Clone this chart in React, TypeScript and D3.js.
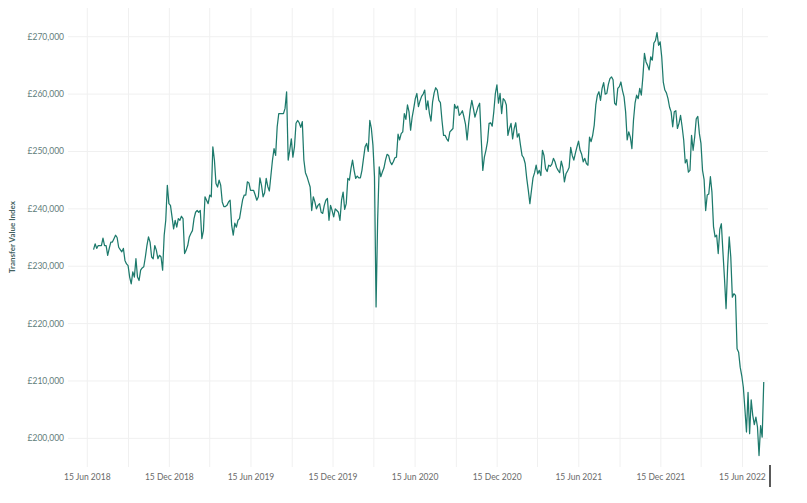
import React from 'react'
import * as d3 from 'd3'

const startDate = new Date(2018, 5, 29)
const stepDays = 3.5
const indexValues = [
  232900, 233900, 233100, 233600, 233600, 233600, 234900, 233600, 233600, 231900,
  233100, 234200, 234200, 234800, 235400, 235000, 233300, 232900, 232500, 233100,
  231000, 230400, 230100, 228100, 226900, 229000, 228100, 231300, 228100, 227500,
  229300, 229700, 229900, 231600, 233600, 235100, 234200, 231600, 231300, 233600,
  232800, 231300, 231900, 231600, 229300, 235400, 238000, 244100, 240900, 240600,
  238600, 236500, 238000, 236800, 238300, 238000, 238700, 238300, 232200, 232800,
  233600, 235100, 235700, 236200, 238300, 239400, 239700, 239400, 239700, 234800,
  236200, 242100, 241500, 240900, 242400, 242100, 250800, 248500, 244400, 243800,
  245000, 244100, 241200, 240400, 240400, 240600, 241200, 241500, 237100, 235400,
  237500, 236800, 238000, 238300, 240000, 241600, 242400, 242400, 244700, 244500,
  243200, 243200, 243200, 242400, 241500, 242100, 245400, 244100, 242100, 242800,
  245300, 243900, 243100, 245800, 248500, 250500, 249300, 254300, 256600, 256600,
  256600, 256600, 257500, 260400, 248500, 250200, 252200, 249000, 250800, 254900,
  255400, 255000, 254200, 255200, 248500, 246300, 245600, 244700, 243800, 239700,
  242100, 241200, 240000, 240600, 240900, 239400, 239200, 240600, 241500, 241800,
  238000, 240600, 239700, 238600, 240000, 239700, 239400, 238000, 241500, 242900,
  239900, 240900, 245300, 245000, 247000, 248500, 246700, 245300, 245700, 245400,
  245400, 246700, 248800, 250800, 251400, 250000, 255400, 254000, 251100, 245600,
  222900, 238000, 247300, 245600, 246400, 247100, 248500, 249500, 249300, 248200,
  247700, 248200, 248900, 249000, 253000, 252000, 253100, 253400, 256600, 255600,
  258100, 256900, 253700, 256000, 257500, 259200, 260100, 257800, 258800, 259600,
  260000, 260700, 257300, 258800, 256600, 255300, 258600, 260200, 261100, 260700,
  258900, 258500, 255400, 252800, 252800, 252200, 251800, 253400, 253700, 254000,
  258200, 257500, 257900, 256300, 256600, 257100, 256000, 254700, 252000, 254900,
  257300, 258900, 257500, 256000, 256900, 257800, 258400, 252200, 246700, 249000,
  250200, 251700, 254900, 255000, 254400, 256900, 260100, 261600, 258400, 260100,
  256600, 259200, 258900, 258100, 252800, 254000, 254900, 252200, 254000, 255000,
  252500, 253100, 251100, 249300, 248900, 247900, 245300, 243200, 240900, 243200,
  245400, 246300, 247600, 246100, 246700, 245800, 250200, 249300, 247000, 246500,
  247600, 247400, 247800, 248800, 248200, 247200, 246700, 246300, 248300, 247200,
  244700, 246100, 246600, 247200, 250700, 249300, 248500, 249700, 250800, 251800,
  250200, 249500, 248200, 248800, 247900, 247600, 252500, 251700, 252800, 254600,
  258100, 259800, 260400, 258900, 261000, 262000, 260000, 260100, 261700, 262700,
  263000, 262500, 258400, 258100, 261000, 261300, 262100, 260600, 259500, 256900,
  252000, 253400, 252500, 250500, 255400, 258400, 259800, 259200, 261000, 259800,
  263000, 267100, 265600, 265000, 264200, 266500, 265900, 268900, 269300, 270700,
  268500, 269100, 266500, 262100, 260700, 260200, 259200, 257700, 256900, 254300,
  256900, 257100, 254000, 254900, 256300, 254300, 252000, 248000, 248600, 246400,
  246700, 252800, 250200, 252500, 255700, 256100, 253100, 251400, 246700, 245100,
  239700, 242400, 242600, 245600, 242900, 236900, 235100, 235400, 232200, 236400,
  237400, 232500, 227800, 222600, 229900, 235100, 231600, 224600, 225200, 224900,
  215600, 215000, 212400, 210900, 208900, 205100, 201100, 208000, 200800, 206700,
  204000, 202400, 203700, 202000, 197000, 202200, 200200, 209800,
]

const yTicks = [200000, 210000, 220000, 230000, 240000, 250000, 260000, 270000]
const labelYears = [2018, 2019, 2020, 2021, 2022]
const yTitle = 'Transfer Value Index'

const W = 807
const H = 503
const plot = { left: 68, right: 768, top: 8, bottom: 467 }

export default function App() {
  const data = indexValues.map((v, i) => ({
    date: new Date(startDate.getTime() + i * stepDays * 864e5),
    value: v,
  }))

  const x = d3.scaleTime()
    .domain([new Date(2018, 4, 3), new Date(2022, 7, 11)])
    .range([plot.left, plot.right])
  const y = d3.scaleLinear().domain([195000, 275000]).range([plot.bottom, plot.top])

  // labels on 15 Jun / 15 Dec, grid every 3 months
  const labelTicks: Date[] = []
  labelYears.forEach(yr => {
    labelTicks.push(new Date(yr, 5, 15))
    if (yr < 2022) labelTicks.push(new Date(yr, 11, 15))
  })
  const gridTicks: Date[] = []
  for (let d = new Date(2018, 2, 15); d <= x.domain()[1]; d = d3.timeMonth.offset(d, 3)) {
    if (d >= x.domain()[0]) gridTicks.push(d)
  }

  const line = d3.line<{ date: Date; value: number }>()
    .x(d => x(d.date))
    .y(d => y(d.value))

  const fmtMoney = (v: number) => '£' + d3.format(',')(v)
  const fmtDate = d3.timeFormat('%d %b %Y')
  const font = 'Lato, "Open Sans", sans-serif'

  return (
    <div style={{ position: 'absolute', left: 0, top: 0 }}>
      <svg width={W} height={H} style={{ display: 'block', background: '#fff' }}>
        {yTicks.map(t => (
          <line key={'h' + t} x1={plot.left} x2={plot.right} y1={y(t)} y2={y(t)} stroke="#f0f0f0" strokeWidth={1} />
        ))}
        {gridTicks.map(t => (
          <line key={'v' + t.getTime()} x1={x(t)} x2={x(t)} y1={plot.top} y2={plot.bottom} stroke="#f0f0f0" strokeWidth={1} />
        ))}

        {yTicks.map(t => (
          <text key={'yl' + t} x={64} y={y(t)} dy="0.35em" textAnchor="end"
            fontFamily={font} fontSize={8.5} fill="#5f7d7b">{fmtMoney(t)}</text>
        ))}
        <text transform={`translate(15,${237}) rotate(-90)`} textAnchor="middle"
          fontFamily={font} fontSize={8} fontWeight="bold" fill="#44625f">{yTitle}</text>

        {labelTicks.map(t => (
          <text key={'xl' + t.getTime()} x={x(t)} y={480} textAnchor="middle"
            fontFamily={font} fontSize={8.5} fill="#6a6a6a">{fmtDate(t)}</text>
        ))}

        <path d={line(data) || ''} fill="none" stroke="#1d7a6c" strokeWidth={1.25} strokeLinejoin="round" />

        <line x1={770} x2={770} y1={465} y2={487} stroke="#000" strokeWidth={1.3} />
      </svg>
    </div>
  )
}
